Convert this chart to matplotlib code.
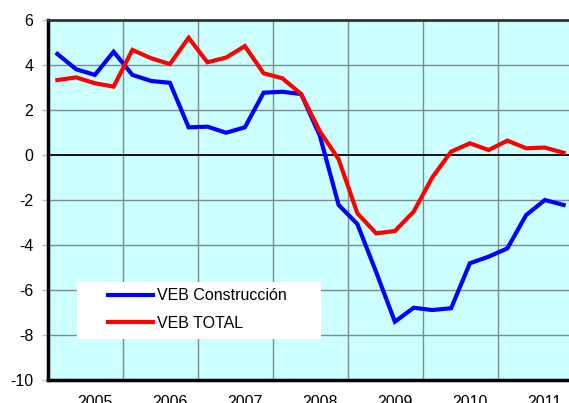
import matplotlib
matplotlib.use("Agg")
import matplotlib.pyplot as plt
from matplotlib.patches import Rectangle

plt.rcParams['font.family'] = ['Liberation Sans', 'DejaVu Sans']

# quarterly values
veb_construccion = [4.49, 3.81, 3.56, 4.59, 3.56, 3.29, 3.21, 1.23, 1.26, 0.99,
                    1.23, 2.77, 2.81, 2.71, 0.85, -2.22, -3.07, -5.2, -7.41, -6.79,
                    -6.89, -6.81, -4.81, -4.52, -4.15, -2.67, -2.0, -2.22]
veb_total = [3.33, 3.45, 3.19, 3.04, 4.67, 4.30, 4.04, 5.21, 4.12, 4.33,
             4.84, 3.63, 3.41, 2.71, 1.05, -0.19, -2.59, -3.48, -3.38, -2.52,
             -0.99, 0.15, 0.52, 0.22, 0.64, 0.30, 0.33, 0.10]
years = ['2005', '2006', '2007', '2008', '2009', '2010', '2011']
yticks = [-10, -8, -6, -4, -2, 0, 2, 4, 6]

fig = plt.figure(figsize=(5.69, 4.03), dpi=100)
ax = fig.add_axes([48 / 569, 23 / 403, 521 / 569, 360 / 403])
ax.set_facecolor('#CCFFFF')

x = list(range(len(veb_total)))
ax.plot(x, veb_construccion, color='#0000FF', lw=3, label='VEB Construcción',
        solid_joinstyle='miter', zorder=4)
ax.plot(x, veb_total, color='#FF0000', lw=3, label='VEB TOTAL',
        solid_joinstyle='miter', zorder=5)

ax.set_xlim(-0.5, -0.5 + 521 / 18.75)
ax.set_ylim(-10, 6)

# grid
for gx in range(3, len(x), 4):
    ax.axvline(gx + 0.5, color='#7f8c8c', lw=1, zorder=1)
for gy in yticks[1:-1]:
    if gy == 0:
        ax.axhline(0, color='black', lw=1.3, zorder=2)
    else:
        ax.axhline(gy, color='#7f8c8c', lw=1, zorder=1)

ax.set_yticks(yticks)
ax.set_yticklabels([str(v) for v in yticks])
ax.set_xticks([2 + 4 * i for i in range(len(years))])
ax.set_xticklabels(years)
ax.tick_params(axis='y', length=4.5, width=1, color='#c0c0c0', pad=6, labelsize=11.5)
ax.tick_params(axis='x', length=0, pad=10.5, labelsize=11.5)

for s in ['left', 'bottom']:
    ax.spines[s].set_linewidth(2.5)
    ax.spines[s].set_color('black')
ax.spines['top'].set_linewidth(2)
ax.spines['top'].set_color('#333333')
ax.spines['right'].set_visible(False)

# legend box
ax.add_patch(Rectangle((29 / 521, 41 / 360), 244 / 521, 57 / 360,
                       transform=ax.transAxes, facecolor='white',
                       edgecolor='none', zorder=3))
ax.legend(loc='center left', bbox_to_anchor=(60 / 521, 70.5 / 360),
          frameon=False, fontsize=11.5, handlelength=2.8, handletextpad=0.25,
          labelspacing=0.8, borderpad=0, borderaxespad=0)
ax.get_legend().set_zorder(6)

fig.savefig('out.png', dpi=100)
